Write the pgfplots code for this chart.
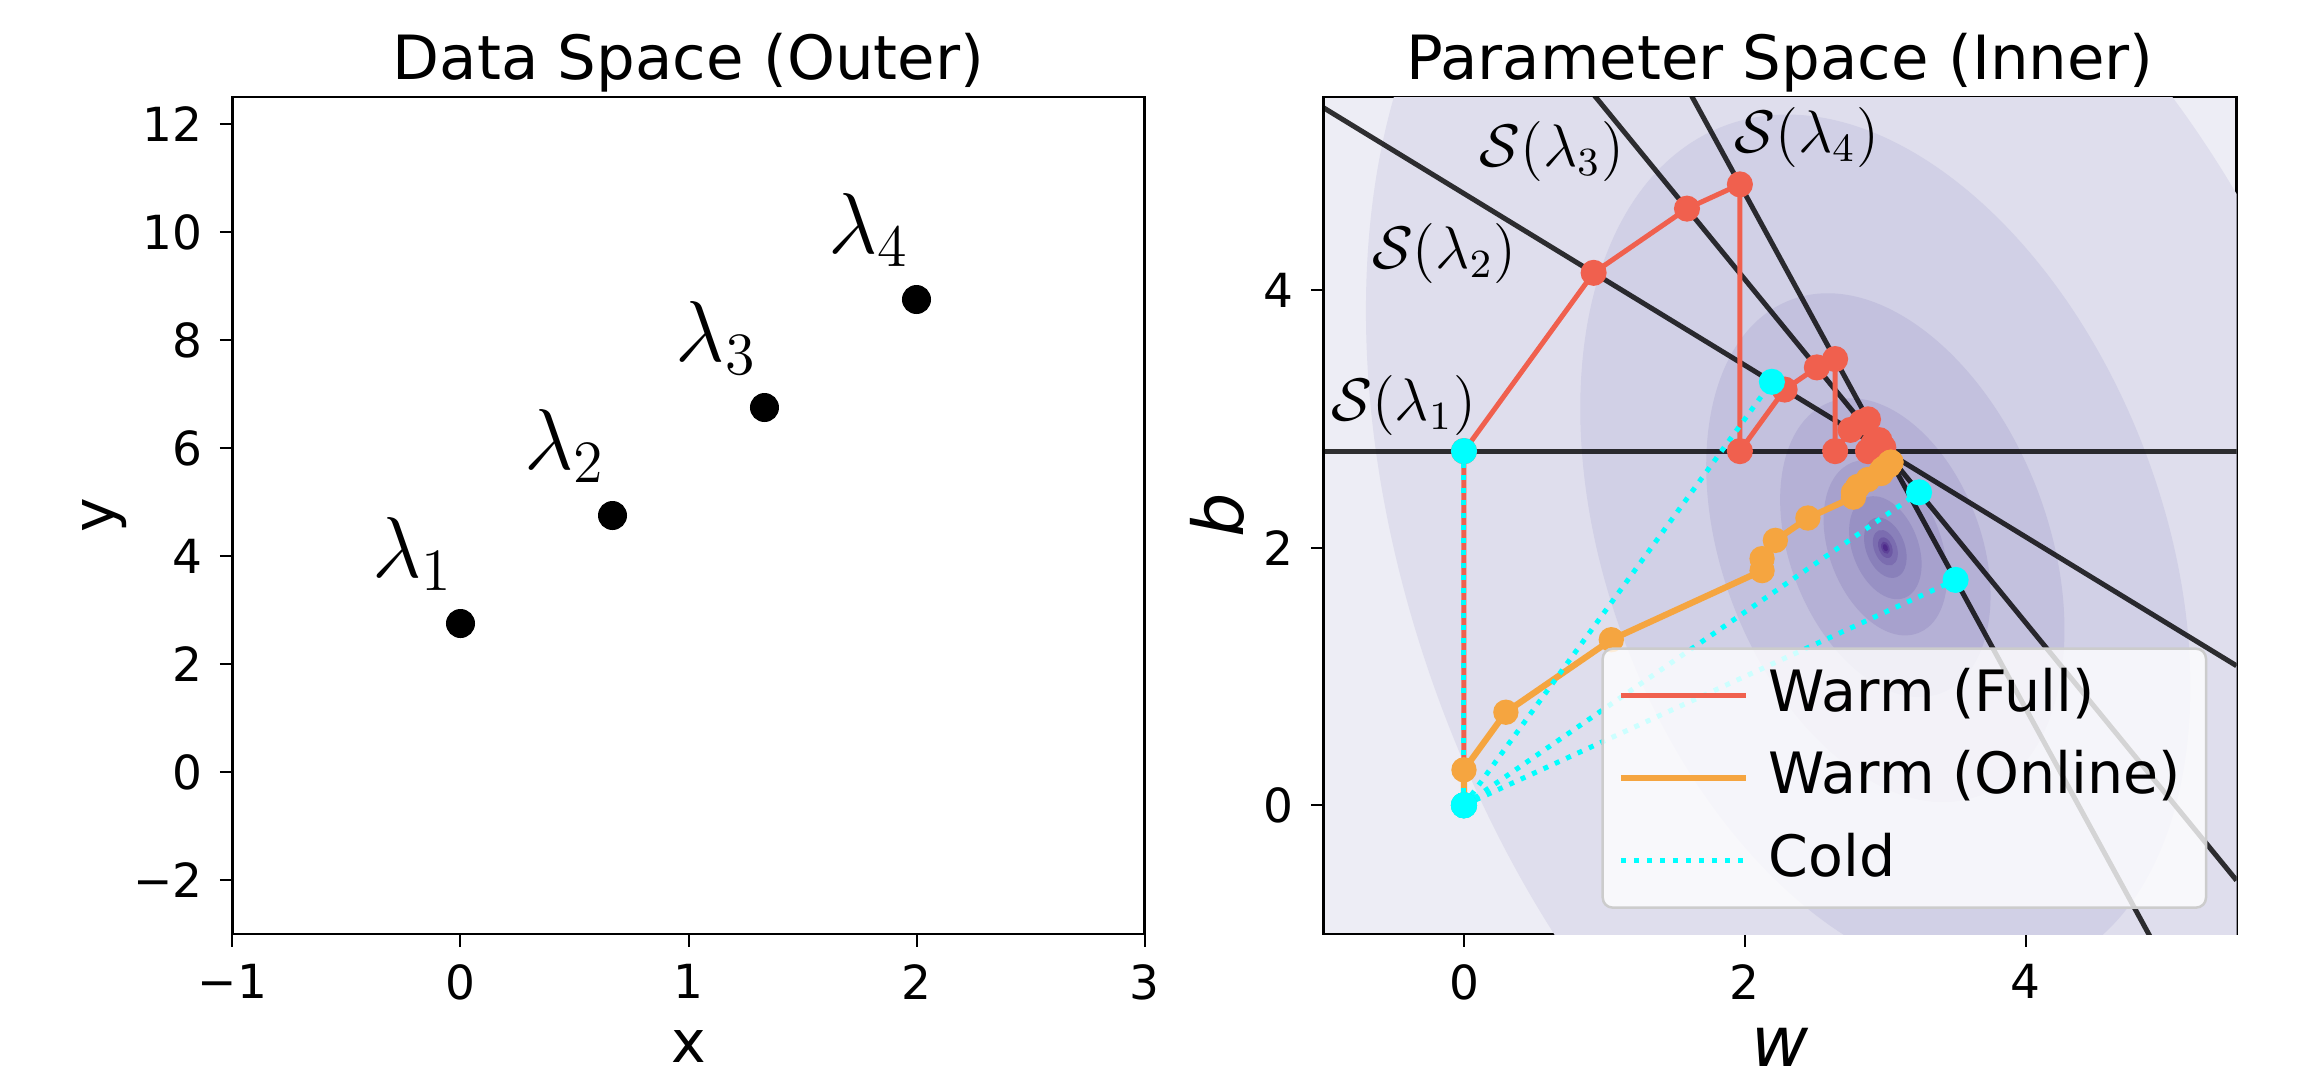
\documentclass[border=0pt]{standalone}
\usepackage[no-math]{fontspec}
\setmainfont{DejaVu Sans}
\usepackage{pgfplots}
\pgfplotsset{compat=1.18}

\definecolor{redc}{HTML}{F0604E}
\definecolor{orac}{HTML}{F5A540}
\definecolor{cyac}{HTML}{00FFFF}
\definecolor{bgc}{HTML}{EDEDF5}
\definecolor{k0}{HTML}{DFDEED}
\definecolor{k1}{HTML}{D1D0E6}
\definecolor{k2}{HTML}{C3C1DE}
\definecolor{k3}{HTML}{B5B1D6}
\definecolor{k4}{HTML}{A7A1CD}
\definecolor{k5}{HTML}{9891C4}
\definecolor{k6}{HTML}{8980BA}
\definecolor{k7}{HTML}{7B6DB0}
\definecolor{k8}{HTML}{6C58A4}
\definecolor{k9}{HTML}{5E4298}
\definecolor{k10}{HTML}{4F2B8B}

\pgfplotsset{
  common/.style={
    scale only axis,
    anchor=south west,
    height=167.4pt,
    tick align=outside,
    xtick pos=left, ytick pos=left,
    major tick length=2.5pt,
    tick style={black, line width=0.4pt},
    ticklabel style={font=\fontsize{9.4}{11}\selectfont},
    axis line style={line width=0.5pt},
    every axis title/.style={at={(axis description cs:0.5,1)}, anchor=base, yshift=3.6pt, font=\fontsize{12.2}{14}\selectfont},
  },
}

\begin{document}
\begin{tikzpicture}
\useasboundingbox (0,0) rectangle (460pt,215.2pt);

% ---------------- Left: data space ----------------
\begin{axis}[common,
  at={(46.5pt,28.4pt)},
  width=182.4pt,
  xmin=-1, xmax=3, ymin=-3, ymax=12.5,
  xtick={-1,0,1,2,3}, xticklabels={−1,0,1,2,3},
  ytick={-2,0,2,4,6,8,10,12}, yticklabels={−2,0,2,4,6,8,10,12},
  title={Data Space (Outer)},
  xlabel={x}, ylabel={y},
  every axis x label/.style={at={(axis description cs:0.5,0)}, anchor=base, yshift=-25.7pt, font=\fontsize{11.7}{14}\selectfont},
  every axis y label/.style={at={(axis description cs:-0.14,0.5)}, rotate=90, anchor=center, font=\fontsize{11.7}{14}\selectfont},
]
\addplot[only marks, mark=*, mark size=2.7pt, black] coordinates {
  (0,2.75) (0.6667,4.75) (1.3333,6.75) (2,8.75)
};
\node[font=\fontsize{17.5}{20}\selectfont] at (axis cs:-0.21,4.03) {$\lambda_1$};
\node[font=\fontsize{17.5}{20}\selectfont] at (axis cs:0.457,6.03) {$\lambda_2$};
\node[font=\fontsize{17.5}{20}\selectfont] at (axis cs:1.123,8.03) {$\lambda_3$};
\node[font=\fontsize{17.5}{20}\selectfont] at (axis cs:1.79,10.03) {$\lambda_4$};
\end{axis}

% ---------------- Right: parameter space ----------------
\begin{axis}[common,
  at={(264.7pt,28.4pt)},
  width=182.6pt,
  xmin=-1, xmax=5.5, ymin=-1, ymax=5.5,
  xtick={0,2,4}, ytick={0,2,4},
  xticklabels={0,2,4}, yticklabels={0,2,4},
  title={Parameter Space (Inner)},
  xlabel={\textit{w}}, ylabel={\textit{b}},
  every axis x label/.style={at={(axis description cs:0.5,0)}, anchor=base, yshift=-26.5pt, font=\fontsize{14}{16}\selectfont},
  every axis y label/.style={at={(axis description cs:-0.116,0.5)}, rotate=90, anchor=center, font=\fontsize{14}{16}\selectfont},
  axis background/.style={fill=bgc},
  legend style={at={(0.968,0.03)}, anchor=south east,
    font=\fontsize{11.4}{13}\selectfont,
    draw=black!20, line width=0.5pt, fill=white, fill opacity=0.8, text opacity=1, draw opacity=1,
    rounded corners=2pt, row sep=1.5pt, inner xsep=3pt, inner ysep=1.9pt,
    nodes={inner sep=2pt, text height=8.6pt, text depth=2.4pt},
    /tikz/every odd column/.append style={column sep=2pt}},
  legend cell align=left,
  legend image code/.code={\draw[#1] (0pt,0pt) -- (25pt,0pt);},
]
% loss contours (filled, geometric levels)
\fill[k0]  (axis cs:3,2) ellipse [x radius=94.3pt,  y radius=153.8pt, rotate=21];
\fill[k1]  (axis cs:3,2) ellipse [x radius=55.4pt,  y radius=90.3pt,  rotate=21];
\fill[k2]  (axis cs:3,2) ellipse [x radius=32.52pt, y radius=53.05pt, rotate=21];
\fill[k3]  (axis cs:3,2) ellipse [x radius=19.10pt, y radius=31.15pt, rotate=21];
\fill[k4]  (axis cs:3,2) ellipse [x radius=11.21pt, y radius=18.29pt, rotate=21];
\fill[k5]  (axis cs:3,2) ellipse [x radius=6.585pt, y radius=10.74pt, rotate=21];
\fill[k6]  (axis cs:3,2) ellipse [x radius=3.867pt, y radius=6.309pt, rotate=21];
\fill[k7]  (axis cs:3,2) ellipse [x radius=2.271pt, y radius=3.705pt, rotate=21];
\fill[k8]  (axis cs:3,2) ellipse [x radius=1.334pt, y radius=2.176pt, rotate=21];
\fill[k9]  (axis cs:3,2) ellipse [x radius=0.783pt, y radius=1.278pt, rotate=21];
\fill[k10] (axis cs:3,2) ellipse [x radius=0.46pt,  y radius=0.75pt,  rotate=21];

% solution sets S(lambda_i)
\addplot[forget plot, black, opacity=0.8, line width=1.0pt] coordinates {(-1,2.75) (5.5,2.75)};
\addplot[forget plot, black, opacity=0.8, line width=1.0pt] coordinates {(-1,5.41667) (5.5,1.08333)};
\addplot[forget plot, black, opacity=0.8, line width=1.0pt] coordinates {(-1,8.08333) (5.5,-0.58333)};
\addplot[forget plot, black, opacity=0.8, line width=1.0pt] coordinates {(-1,10.75) (5.5,-2.25)};

% Warm (Full)
\addplot[forget plot, redc, line width=1.0pt, mark=*, mark size=2.1pt, mark options={solid, fill=redc, draw=none}] coordinates {
  (0,0) (0,2.75) (0.923077,4.134615) (1.587692,4.633077) (1.964308,4.821385)
  (1.964308,2.75) (2.282983,3.228012) (2.512428,3.400096) (2.642448,3.465106)
  (2.642448,2.75) (2.752464,2.915024) (2.831676,2.974433) (2.876562,2.996876)
  (2.876562,2.75) (2.914543,2.806971) (2.941890,2.827481) (2.957386,2.835229)
  (2.957386,2.75) (2.970498,2.769668) (2.979938,2.776748) (2.985288,2.779423)
  (2.985288,2.75)
};
% Warm (Online)
\addplot[forget plot, orac, line width=1.25pt, mark=*, mark size=1.9pt, mark options={solid, fill=orac, draw=none}] coordinates {
  (0,0) (0,0.275) (0.298333,0.7225) (1.048962,1.285472) (2.122283,1.822132)
  (2.122283,1.914919) (2.216965,2.056942) (2.448579,2.230653) (2.773017,2.392872)
  (2.773017,2.428585) (2.804533,2.475859) (2.875835,2.529335) (2.969634,2.576235)
  (2.969634,2.593612) (2.981409,2.611275) (3.003211,2.627626) (3.026401,2.639221)
  (3.026401,2.650299) (3.031874,2.658509) (3.038406,2.663408) (3.040362,2.664386)
};
% Cold
\addplot[forget plot, cyac, line width=1.0pt, dash pattern=on 1pt off 1.5pt, mark=*, mark size=2.1pt, mark options={solid, fill=cyac, draw=none}] coordinates {(0,0) (0,2.75)};
\addplot[forget plot, cyac, line width=1.0pt, dash pattern=on 1pt off 1.5pt, mark=*, mark size=2.1pt, mark options={solid, fill=cyac, draw=none}] coordinates {(0,0) (2.192308,3.288462)};
\addplot[forget plot, cyac, line width=1.0pt, dash pattern=on 1pt off 1.5pt, mark=*, mark size=2.1pt, mark options={solid, fill=cyac, draw=none}] coordinates {(0,0) (3.24,2.43)};
\addplot[forget plot, cyac, line width=1.0pt, dash pattern=on 1pt off 1.5pt, mark=*, mark size=2.1pt, mark options={solid, fill=cyac, draw=none}] coordinates {(0,0) (3.5,1.75)};

\node[font=\fontsize{11.5}{14}\selectfont] at (axis cs:-0.43,3.107) {$\mathcal{S}(\lambda_1)$};
\node[font=\fontsize{11.5}{14}\selectfont] at (axis cs:-0.14,4.285) {$\mathcal{S}(\lambda_2)$};
\node[font=\fontsize{11.5}{14}\selectfont] at (axis cs:0.625,5.074) {$\mathcal{S}(\lambda_3)$};
\node[font=\fontsize{11.5}{14}\selectfont] at (axis cs:2.44,5.183) {$\mathcal{S}(\lambda_4)$};

\addlegendimage{redc, line width=1.1pt}
\addlegendentry{Warm (Full)}
\addlegendimage{orac, line width=1.25pt}
\addlegendentry{Warm (Online)}
\addlegendimage{cyac, line width=1.1pt, dash pattern=on 1.1pt off 1.5pt}
\addlegendentry{Cold}
\end{axis}
\end{tikzpicture}
\end{document}
